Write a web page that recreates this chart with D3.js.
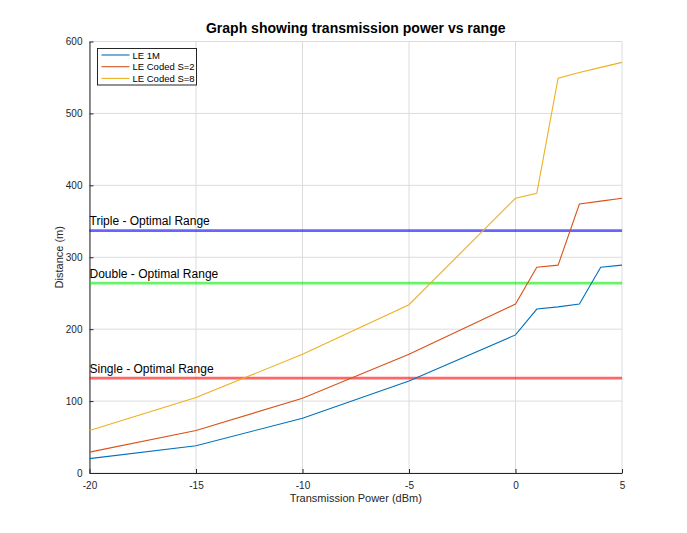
<!DOCTYPE html>
<html>
<head>
<meta charset="utf-8">
<script src="https://cdn.jsdelivr.net/npm/d3@7"></script>
<style>
  body { margin: 0; background: #fff; }
  text { font-family: "Liberation Sans", Arial, Helvetica, sans-serif; }
</style>
</head>
<body>
<div id="chart"></div>
<script>
// data
const power = [-20, -15, -10, -5, 0, 1, 2, 3, 4, 5];
const le1m = [20, 38, 76, 128, 192, 228, 231, 235, 286, 289];
const coded2 = [29, 59, 104, 165, 235, 286, 289, 374, 378, 382];
const coded8 = [59, 105, 165, 234, 382, 389, 549, 557, 564, 571];
const seriesNames = ['LE 1M', 'LE Coded S=2', 'LE Coded S=8'];
const seriesColors = ['#0072BD', '#D95319', '#EDB120'];

const rangeNames = ['Triple - Optimal Range', 'Double - Optimal Range', 'Single - Optimal Range'];
const rangeValues = [337, 264, 132];
const rangeColors = ['#0000ff', '#00ee00', '#ff0000'];

const xTicks = [-20, -15, -10, -5, 0, 5];
const yTicks = [0, 100, 200, 300, 400, 500, 600];

const width = 687, height = 533;
const margin = {left: 89.5, right: 65, top: 41.5, bottom: 60};

const svg = d3.select('#chart').append('svg')
    .attr('width', width)
    .attr('height', height);

const x = d3.scaleLinear().domain([-20, 5]).range([margin.left, width - margin.right]);
const y = d3.scaleLinear().domain([0, 600]).range([height - margin.bottom, margin.top]);

// grid
svg.append('g').selectAll('line').data(xTicks).enter().append('line')
    .attr('x1', d => x(d)).attr('x2', d => x(d))
    .attr('y1', y(0)).attr('y2', y(600))
    .attr('stroke', '#dcdcdc').attr('stroke-width', 1);
svg.append('g').selectAll('line').data(yTicks).enter().append('line')
    .attr('x1', x(-20)).attr('x2', x(5))
    .attr('y1', d => y(d)).attr('y2', d => y(d))
    .attr('stroke', '#dcdcdc').attr('stroke-width', 1);

// axes (ticks point inward, plain hyphen for negatives)
const fmt = d => String(d);
const xAxis = svg.append('g')
    .attr('transform', `translate(0,${y(0)})`)
    .call(d3.axisBottom(x).tickValues(xTicks).tickFormat(fmt).tickSizeInner(-4).tickSizeOuter(0).tickPadding(9));
const yAxis = svg.append('g')
    .attr('transform', `translate(${x(-20)},0)`)
    .call(d3.axisLeft(y).tickValues(yTicks).tickFormat(fmt).tickSizeInner(-4).tickSizeOuter(0).tickPadding(7));
[xAxis, yAxis].forEach(a => {
  a.select('.domain').attr('stroke', '#262626');
  a.selectAll('.tick line').attr('stroke', '#262626');
  a.selectAll('.tick text').attr('fill', '#262626').style('font-size', '10px')
      .style('font-family', '"Liberation Sans", Arial, sans-serif');
});

// optimal range lines
rangeValues.forEach((v, i) => {
  svg.append('line')
      .attr('x1', x(-20)).attr('x2', x(5))
      .attr('y1', y(v)).attr('y2', y(v))
      .attr('stroke', rangeColors[i])
      .attr('stroke-opacity', 0.6)
      .attr('stroke-width', 2.7);
  svg.append('text')
      .attr('x', x(-20))
      .attr('y', y(v) - 5.5)
      .attr('fill', '#000')
      .style('font-size', '12px')
      .text(rangeNames[i]);
});

// series
const line = d3.line().x((d, i) => x(power[i])).y(d => y(d));
[le1m, coded2, coded8].forEach((s, i) => {
  svg.append('path')
      .datum(s)
      .attr('fill', 'none')
      .attr('stroke', seriesColors[i])
      .attr('stroke-width', 1.1)
      .attr('d', line);
});

// legend
const legend = svg.append('g').attr('transform', 'translate(97.5,48.5)');
legend.append('rect')
    .attr('width', 99).attr('height', 36.5)
    .attr('fill', '#fff').attr('stroke', '#262626').attr('stroke-width', 1);
seriesNames.forEach((n, i) => {
  const ly = 6.5 + i * 11.7;
  legend.append('line')
      .attr('x1', 4).attr('x2', 32).attr('y1', ly).attr('y2', ly)
      .attr('stroke', seriesColors[i]).attr('stroke-width', 1.1);
  legend.append('text')
      .attr('x', 35).attr('y', ly + 3.5)
      .attr('fill', '#000')
      .style('font-size', '9.5px')
      .text(n);
});

// labels
svg.append('text')
    .attr('x', (x(-20) + x(5)) / 2).attr('y', 33)
    .attr('text-anchor', 'middle')
    .style('font-size', '14px').style('font-weight', 'bold')
    .text('Graph showing transmission power vs range');
svg.append('text')
    .attr('x', (x(-20) + x(5)) / 2).attr('y', 502)
    .attr('text-anchor', 'middle')
    .attr('fill', '#262626')
    .style('font-size', '11px')
    .text('Transmission Power (dBm)');
svg.append('text')
    .attr('transform', `translate(63,${(y(0) + y(600)) / 2}) rotate(-90)`)
    .attr('text-anchor', 'middle')
    .attr('fill', '#262626')
    .style('font-size', '11px')
    .text('Distance (m)');
</script>
</body>
</html>
